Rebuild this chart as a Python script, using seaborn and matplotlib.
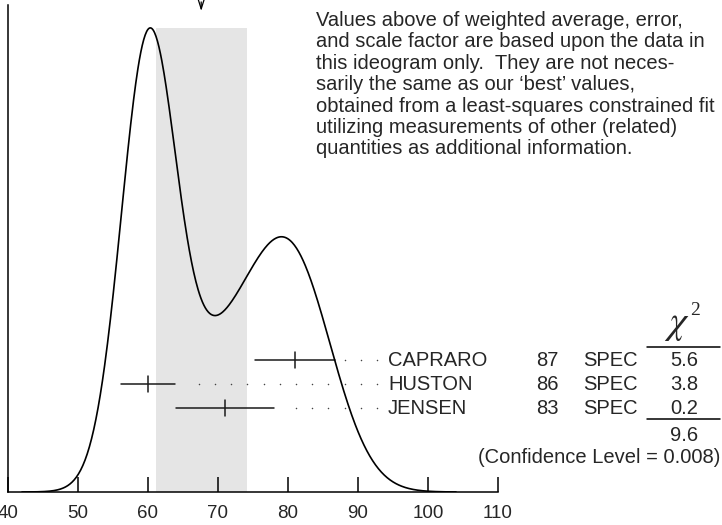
import numpy as np
import pandas as pd
import seaborn as sns
import matplotlib
matplotlib.use('Agg')
import matplotlib.pyplot as plt

# measurements shown in the ideogram
authors = ['CAPRARO', 'HUSTON', 'JENSEN']
years = ['87', '86', '83']
techniques = ['SPEC', 'SPEC', 'SPEC']
values = [81.0, 60.0, 71.0]
errors = [5.7, 3.9, 7.0]
chi2 = ['5.6', '3.8', '0.2']
chi2_total = '9.6'
confidence = '0.008'

weighted_avg = 67.6
band_halfwidth = 6.5

note = ("Values above of weighted average, error,\n"
        "and scale factor are based upon the data in\n"
        "this ideogram only.  They are not neces-\n"
        "sarily the same as our \u2018best\u2019 values,\n"
        "obtained from a least-squares constrained fit\n"
        "utilizing measurements of other (related)\n"
        "quantities as additional information.")

sns.set_theme(style='white')
plt.rcParams['font.family'] = ['Liberation Sans', 'DejaVu Sans']
plt.rcParams['mathtext.fontset'] = 'stix'
FS = 14.5

# ideogram: sum of gaussians, area ~ 1/sigma
grid = np.linspace(42, 104, 600)
ideo = np.zeros_like(grid)
for v, e in zip(values, errors):
    ideo += np.exp(-0.5 * ((grid - v) / e) ** 2) / e ** 2
top = 0.953
ideo = ideo / ideo.max() * top
curve = pd.DataFrame({'x': grid, 'y': ideo})

fig = plt.figure(figsize=(7.22, 5.25), dpi=100)
ax = fig.add_axes([8 / 722, 1 - 492 / 525, 490 / 722, 487 / 525])
ax.set_xlim(40, 110)
ax.set_ylim(0, 1)

# scaled error band
ax.fill_between([weighted_avg - band_halfwidth, weighted_avg + band_halfwidth],
                0, top, color='#e5e5e5', lw=0, zorder=0)

sns.lineplot(data=curve, x='x', y='y', color='black', lw=1.2, ax=ax, zorder=3)

row_y = [0.271 - 0.0493 * i for i in range(len(authors))]
leader_end = 92.71
leader_step = 2.314
for i, (v, e) in enumerate(zip(values, errors)):
    y = row_y[i]
    ax.plot([v - e, v + e], [y, y], color='#1a1a1a', lw=1.1, zorder=2)
    ax.plot([v, v], [y - 0.0165, y + 0.0165], color='#1a1a1a', lw=1.1, zorder=2)
    dots = np.arange(leader_end, v + e + 1.1, -leader_step)
    ax.scatter(dots, np.full(len(dots), y), s=1.2, color='#444444',
               linewidths=0, zorder=2, clip_on=False)
    ax.text(94.29, y, authors[i], fontsize=FS, va='center', ha='left')
    ax.text(117.07, y, years[i], fontsize=FS, va='center', ha='center')
    ax.text(122.14, y, techniques[i], fontsize=FS, va='center', ha='left')
    ax.text(136.57, y, chi2[i], fontsize=FS, va='center', ha='center')

ax.text(135.57, 0.343, r'$\chi$', fontsize=28, va='center', ha='center')
ax.text(138.14, 0.372, '2', fontsize=14, va='center', ha='center',
        family='Liberation Serif')
ax.plot([131.29, 141.71], [0.2984, 0.2984], color='black', lw=1.1, clip_on=False)
ax.plot([131.29, 141.71], [0.1495, 0.1495], color='black', lw=1.1, clip_on=False)
ax.text(136.57, 0.115, chi2_total, fontsize=FS, va='center', ha='center')
ax.text(141.71, 0.0708, '(Confidence Level = %s)' % confidence,
        fontsize=FS, va='center', ha='right')

for t in ax.texts:
    t.set_clip_on(False)

# arrow marking the weighted average
ax.annotate('', xy=(weighted_avg, 0.982), xytext=(weighted_avg, 1.012),
            arrowprops=dict(arrowstyle='->,head_length=0.7,head_width=0.22',
                            color='black', lw=0.9),
            annotation_clip=False)

fig.text(316 / 722, 1 - 11 / 525, note, fontsize=FS, va='top', ha='left',
         linespacing=1.16)

for s in ['top', 'right']:
    ax.spines[s].set_visible(False)
for s in ['left', 'bottom']:
    ax.spines[s].set_color('black')
    ax.spines[s].set_linewidth(1.1)
ax.spines['left'].set_bounds(0, 1)
ax.set_yticks([])
ax.set_xticks([40, 50, 60, 70, 80, 90, 100, 110])
ax.tick_params(axis='x', direction='in', length=10.5, width=1.1, color='black',
               pad=9, labelsize=13.5, bottom=True)
ax.set_xlabel('')
ax.set_ylabel('')

fig.savefig('out.png', dpi=100)
